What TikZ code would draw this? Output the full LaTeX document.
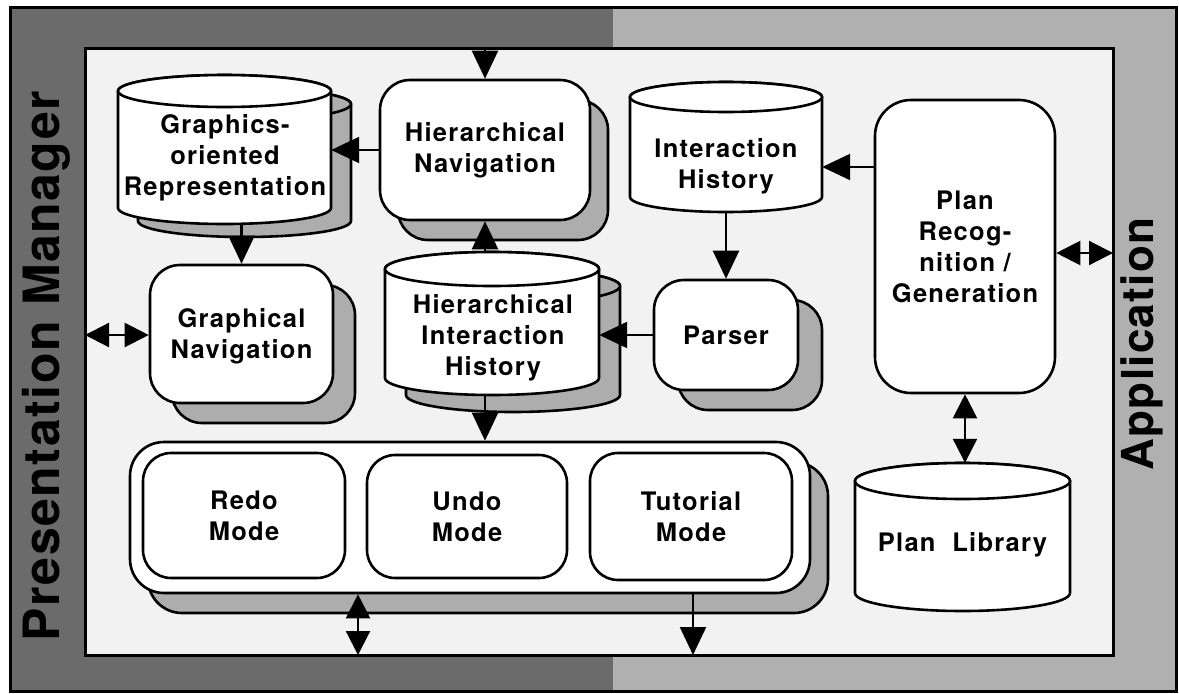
\documentclass[tikz,border=0pt]{standalone}
\usepackage{fontspec}
\setmainfont{TeX Gyre Heros}
\newfontfamily\boxfont[LetterSpace=5]{TeX Gyre Heros}
\newfontfamily\bandfont[LetterSpace=3]{TeX Gyre Heros}
\usetikzlibrary{arrows.meta,shadows,calc}

\definecolor{darkband}{gray}{0.42}
\definecolor{lightband}{gray}{0.69}
\definecolor{shade}{gray}{0.68}
\definecolor{paper}{gray}{0.95}

% vertical drum (database cylinder): style, left, right, top, bottom, ellipse half-height
\newcommand\drum[6]{%
  \path[#1] (#2,{#4+#6}) -- (#2,{#5-#6})
    arc[start angle=180,end angle=0,x radius={(#3-#2)/2},y radius=#6]
    -- (#3,{#4+#6})
    arc[start angle=0,end angle=-180,x radius={(#3-#2)/2},y radius=#6] -- cycle;
  \path[#1] ({(#2+#3)/2},{#4+#6}) ellipse[x radius={(#3-#2)/2},y radius=#6];
}

\begin{document}
\begin{tikzpicture}[x=1pt,y=-1pt,
  lbl/.style={align=center,font=\boxfont\bfseries\fontsize{25.5}{31}\selectfont,inner sep=0pt},
  rbox/.style={draw,line width=2.6pt,fill=white,rounded corners=30pt,inner sep=0pt},
  shad/.style={copy shadow={shadow xshift=#1,shadow yshift=-20pt,fill=shade,draw=black,line width=2.6pt}},
  drumbody/.style={draw,line width=2.6pt,fill=white},
  drumshadow/.style={draw,line width=2.6pt,fill=shade},
  anchorbox/.style={inner sep=0pt,draw=none},
  tip/.tip={Triangle[length=28pt 0 0,width=26pt 0 0]},
  stip/.tip={Triangle[length=24pt 0 0,width=24pt 0 0]},
  arr/.style={line width=2.2pt,-tip},
  dbl/.style={line width=2.2pt,stip-stip},
  band/.style={font=\bandfont\bfseries\fontsize{#1}{#1}\selectfont,rotate=90,inner sep=0pt}
]
\useasboundingbox (0,0) rectangle (1179,694);
\fill[white] (0,0) rectangle (1179,694);

% outer bands: presentation manager (left) and application (right)
\fill[darkband] (10,7) rectangle (613,691);
\fill[lightband] (613,7) rectangle (1176,691);
\draw[line width=3pt] (10,7) rectangle (1176,691);
\draw[line width=3pt,fill=paper] (85,48) rectangle (1113,655);

\node[band=50] (pm) at (46,366) {Presentation Manager};
\node[band=44] (app) at (1142,344) {Application};

% graphics-oriented representation (drum with shadow)
\begin{scope}[shift={(20,13)}]
  \drum{drumshadow}{118}{331}{75}{224}{16}
\end{scope}
\drum{drumbody}{118}{331}{75}{224}{16}
\node[anchorbox,minimum width=213pt,minimum height=149pt] (gor) at (224.5,149.5) {};
\node[lbl] (gort) at (225,158) {Graphics-\\oriented\\Representation};

% hierarchical interaction history (drum with shadow)
\begin{scope}[shift={(21,17)}]
  \drum{drumshadow}{385}{599}{252}{395}{17}
\end{scope}
\drum{drumbody}{385}{599}{252}{395}{17}
\node[anchorbox,minimum width=214pt,minimum height=143pt] (hih) at (492,323.5) {};
\node[lbl] (hiht) at (493,338) {Hierarchical\\Interaction\\History};

% interaction history
\drum{drumbody}{630}{822}{82}{212}{15}
\node[anchorbox,minimum width=192pt,minimum height=130pt] (ih) at (726,147) {};
\node[lbl] (iht) at (726,166) {Interaction\\History};

% plan library
\drum{drumbody}{855}{1070}{463}{611}{18}
\node[anchorbox,minimum width=215pt,minimum height=148pt] (pl) at (962.5,537) {};
\node[lbl] (plt) at (962.5,545) {Plan\ \ Library};

% rounded boxes
\node[rbox,shad=18pt,minimum width=210pt,minimum height=140pt] (hn) at (485,150) {};
\node[lbl] at (hn) {Hierarchical\\Navigation};

\node[rbox,rounded corners=36pt,minimum width=180pt,minimum height=293pt] (pr) at (965,246.5) {};
\node[lbl] at (pr) {Plan\\Recog-\\nition /\\Generation};

\node[rbox,shad=22pt,minimum width=183pt,minimum height=138pt] (gn) at (241.5,334) {};
\node[lbl] at ([yshift=-2pt]gn.center) {Graphical\\Navigation};

\node[rbox,shad=24pt,minimum width=144pt,minimum height=110pt] (parser) at (726,335) {};
\node[lbl] at (parser) {Parser};

% interaction modes
\node[rbox,shad=18pt,rounded corners=34pt,minimum width=680pt,minimum height=151pt] (modes) at (470,517.5) {};
\node[rbox,rounded corners=28pt,minimum width=202pt,minimum height=125pt] (redo) at (244,515.5) {};
\node[lbl] at (redo) {Redo\\Mode};
\node[rbox,rounded corners=28pt,minimum width=200pt,minimum height=123pt] (undo) at (467,516.5) {};
\node[lbl] at (undo) {Undo\\Mode};
\node[rbox,rounded corners=28pt,minimum width=202pt,minimum height=127pt] (tut) at (691,516.5) {};
\node[lbl] at (tut) {Tutorial\\Mode};

% connection points on the inner frame
\coordinate (topin) at (485,48);
\coordinate (leftin) at (85,335);
\coordinate (rightin) at (1113,253);
\coordinate (botin1) at (358,655);
\coordinate (botin2) at (693,655);
\coordinate (ihin) at ([yshift=-20pt]ih.east);

% connectors
\draw[arr] (topin) -- (hn.north);
\draw[arr] (hn.west) -- (hn.west -| gor.east);
\draw[arr] (gn.north |- gor.south) -- (gn.north);
\draw[dbl] (leftin) -- (leftin -| gn.west);
\draw[arr] (hn.south |- hih.north) -- (hn.south);
\draw[arr] (hn.south |- hih.south) -- (hn.south |- modes.north);
\draw[arr] (ih.south) -- (parser.north);
\draw[arr] (parser.west) -- (parser.west -| hih.east);
\draw[arr] (ihin -| pr.west) -- (ihin);
\draw[dbl] (rightin -| pr.east) -- (rightin);
\draw[dbl] (pr.south) -- (pr.south |- pl.north);
\draw[dbl] (botin1 |- modes.south) -- (botin1);
\draw[arr] (botin2 |- modes.south) -- (botin2);
\end{tikzpicture}
\end{document}
